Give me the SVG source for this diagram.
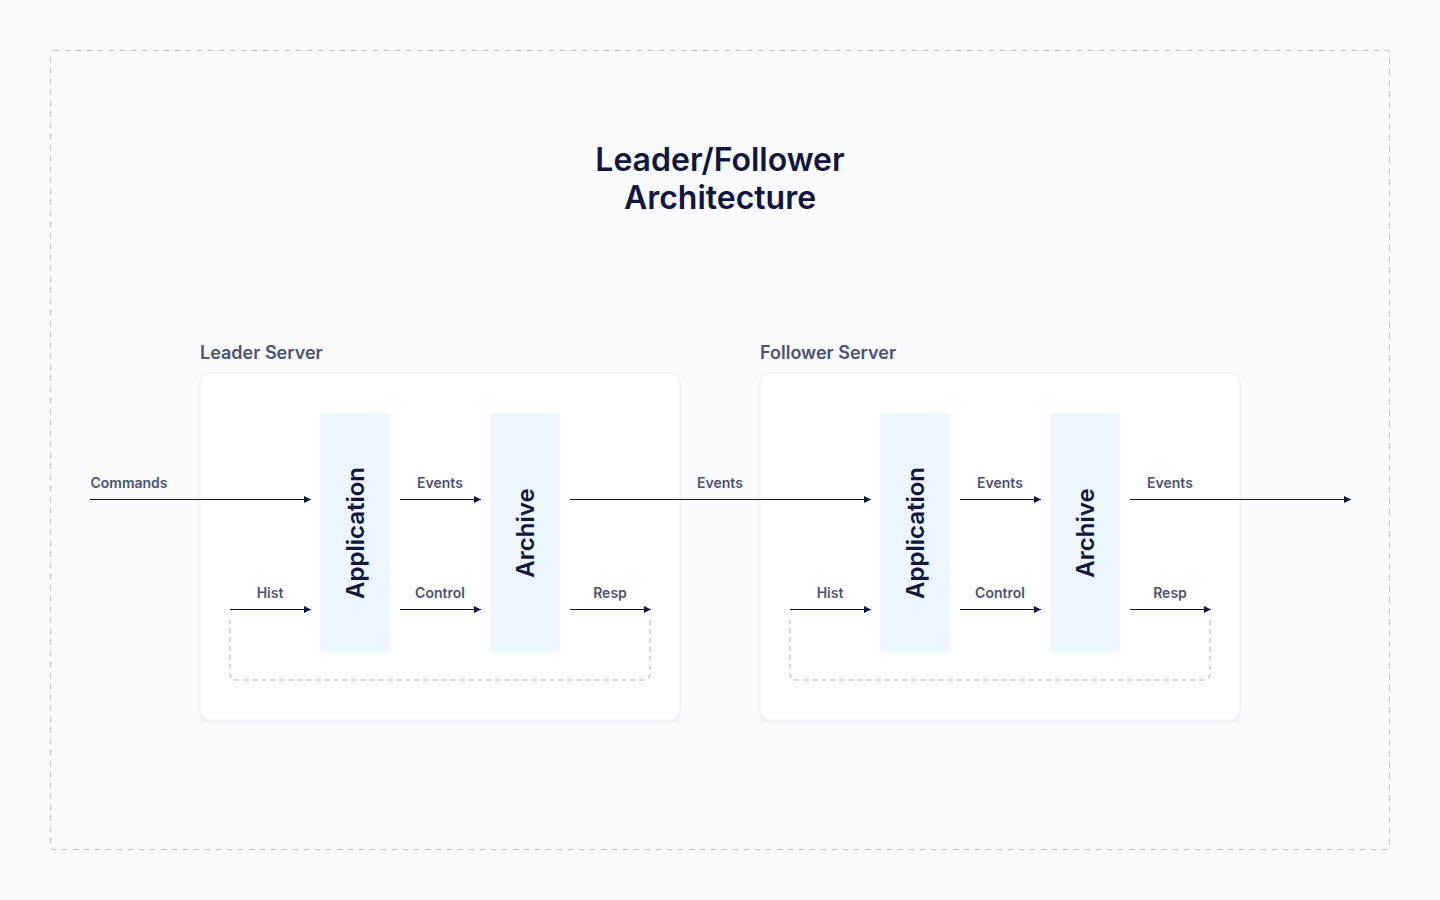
<svg xmlns="http://www.w3.org/2000/svg" width="1440" height="900" viewBox="0 0 1440 900">
<defs>
<marker id="arr" viewBox="0 0 8 8" refX="7" refY="4" markerWidth="8" markerHeight="8" markerUnits="userSpaceOnUse" orient="auto">
<path d="M0,0.5 L7,4 L0,7.5 Z" fill="#10163d"/>
</marker>
<filter id="sh" x="-5%" y="-5%" width="110%" height="110%">
<feDropShadow dx="0" dy="1" stdDeviation="1.5" flood-color="#1a2050" flood-opacity="0.08"/>
</filter>
<style>
.title{font-family:Inter,"Liberation Sans",sans-serif;font-size:32px;font-weight:600;fill:#10163d;text-anchor:middle}
.srv{font-family:Inter,"Liberation Sans",sans-serif;font-size:18px;font-weight:600;fill:#4b5274}
.lbl{font-family:Inter,"Liberation Sans",sans-serif;font-size:14px;font-weight:600;fill:#4b5274;text-anchor:middle}
.comp{font-family:Inter,"Liberation Sans",sans-serif;font-size:24px;font-weight:600;fill:#10163d;text-anchor:middle;dominant-baseline:central}
.box{fill:#ffffff;stroke:#eceef4;stroke-width:1;filter:url(#sh)}
.cbox{fill:#eef6fd}
.ln{stroke:#10163d;stroke-width:1.2;fill:none;marker-end:url(#arr)}
.loop{stroke:#c9cbd3;stroke-width:1.5;fill:none;stroke-dasharray:5 4}
</style>
</defs>
<rect x="0" y="0" width="1440" height="900" fill="#f9fbff"/>
<rect x="50.5" y="50.5" width="1339" height="799" rx="3" fill="none" stroke="#c3c5cd" stroke-width="1" stroke-dasharray="6 5"/>
<g id="title">
<text class="title" x="720" y="171">Leader/Follower</text>
<text class="title" x="720" y="209">Architecture</text>
</g>
<g id="leader-server">
<text class="srv" x="200" y="359">Leader Server</text>
<rect class="box" x="200" y="373" width="480" height="347" rx="10"/>
</g>
<g id="follower-server">
<text class="srv" x="760" y="359">Follower Server</text>
<rect class="box" x="760" y="373" width="480" height="347" rx="10"/>
</g>
<g id="leader-application">
<rect class="cbox" x="320" y="413" width="70" height="240" rx="4"/>
<text class="comp" transform="translate(355,533) rotate(-90)">Application</text>
</g>
<g id="leader-archive">
<rect class="cbox" x="490" y="413" width="70" height="240" rx="4"/>
<text class="comp" transform="translate(525,533) rotate(-90)">Archive</text>
</g>
<g id="follower-application">
<rect class="cbox" x="880" y="413" width="70" height="240" rx="4"/>
<text class="comp" transform="translate(915,533) rotate(-90)">Application</text>
</g>
<g id="follower-archive">
<rect class="cbox" x="1050" y="413" width="70" height="240" rx="4"/>
<text class="comp" transform="translate(1085,533) rotate(-90)">Archive</text>
</g>
<g id="connectors">
<line class="ln" x1="90" y1="499.5" x2="311" y2="499.5"/>
<line class="ln" x1="400" y1="499.5" x2="481" y2="499.5"/>
<line class="ln" x1="570" y1="499.5" x2="871" y2="499.5"/>
<line class="ln" x1="230" y1="609.5" x2="311" y2="609.5"/>
<line class="ln" x1="400" y1="609.5" x2="481" y2="609.5"/>
<line class="ln" x1="570" y1="609.5" x2="651" y2="609.5"/>
<path class="loop" d="M650,620 V674 Q650,680 644,680 H236 Q230,680 230,674 V620"/>
<line class="ln" x1="960" y1="499.5" x2="1041" y2="499.5"/>
<line class="ln" x1="1130" y1="499.5" x2="1351" y2="499.5"/>
<line class="ln" x1="790" y1="609.5" x2="871" y2="609.5"/>
<line class="ln" x1="960" y1="609.5" x2="1041" y2="609.5"/>
<line class="ln" x1="1130" y1="609.5" x2="1211" y2="609.5"/>
<path class="loop" d="M1210,620 V674 Q1210,680 1204,680 H796 Q790,680 790,674 V620"/>
<text class="lbl" x="129" y="488">Commands</text>
<text class="lbl" x="440" y="488">Events</text>
<text class="lbl" x="720" y="488">Events</text>
<text class="lbl" x="270" y="598">Hist</text>
<text class="lbl" x="440" y="598">Control</text>
<text class="lbl" x="610" y="598">Resp</text>
<text class="lbl" x="1000" y="488">Events</text>
<text class="lbl" x="1170" y="488">Events</text>
<text class="lbl" x="830" y="598">Hist</text>
<text class="lbl" x="1000" y="598">Control</text>
<text class="lbl" x="1170" y="598">Resp</text>
</g>
</svg>
